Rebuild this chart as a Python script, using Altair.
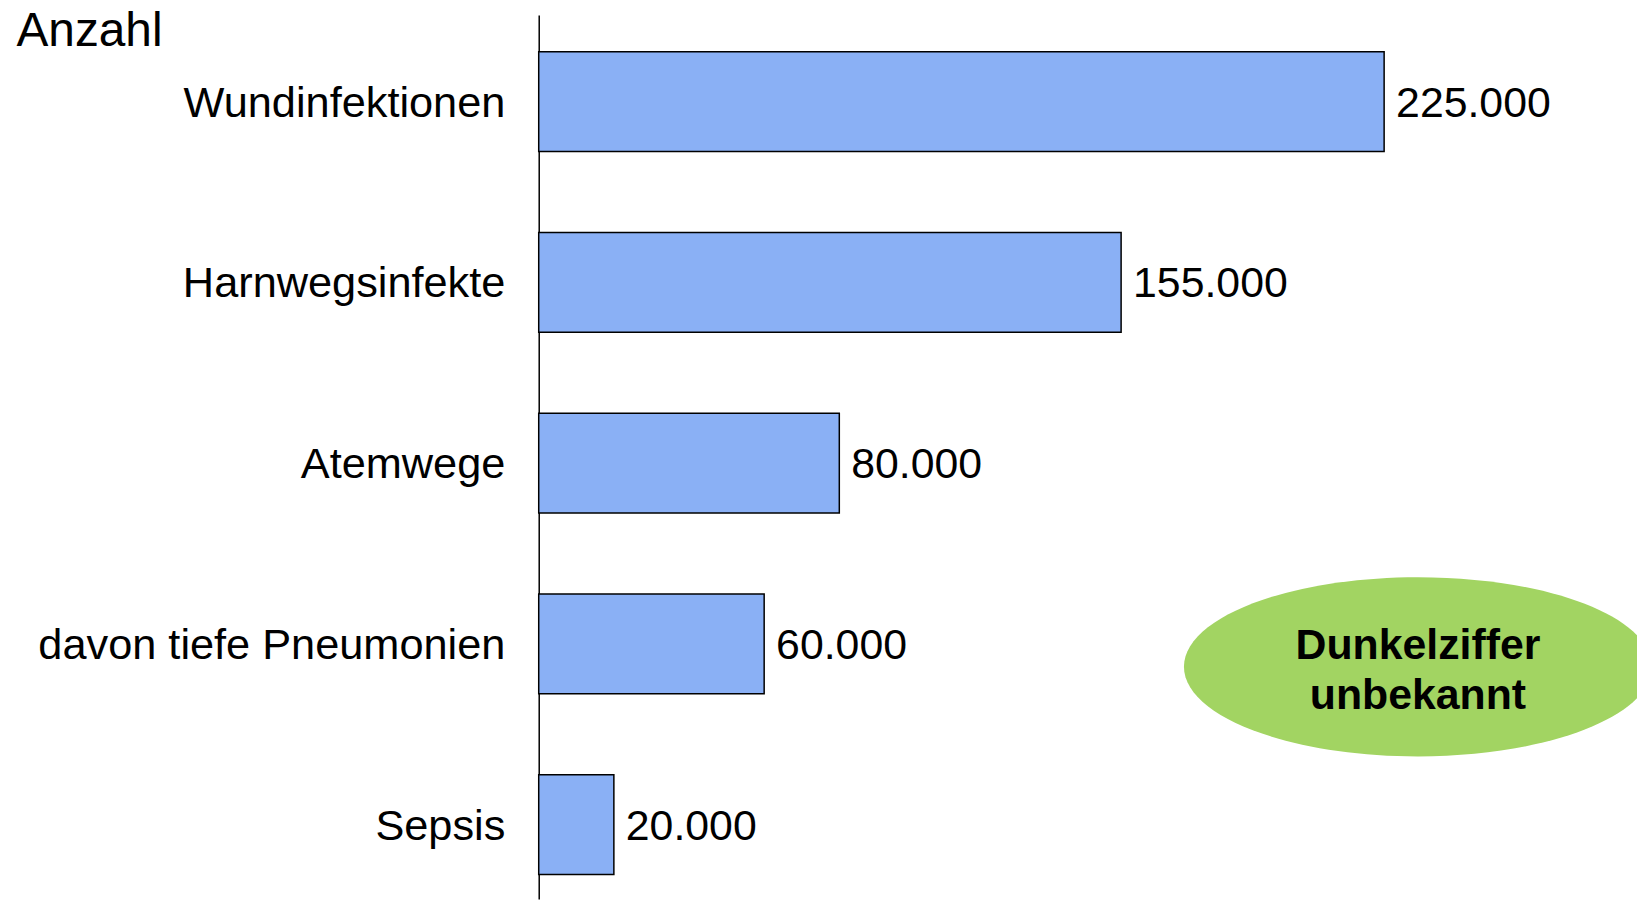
import altair as alt
import pandas as pd

categories = ["Wundinfektionen", "Harnwegsinfekte", "Atemwege", "davon tiefe Pneumonien", "Sepsis"]
values = [225000, 155000, 80000, 60000, 20000]
value_labels = [f"{v:,}".replace(",", ".") for v in values]
axis_title = "Anzahl"
note_text = "Dunkelziffer\nunbekannt"
note_x = [234000]
note_category = ["davon tiefe Pneumonien"]

df = pd.DataFrame({"cat": categories, "val": values, "lab": value_labels})
note_df = pd.DataFrame({"x": note_x, "cat": note_category, "t": [note_text]})

FONT = "Liberation Sans"
W, H = 1103, 888
x_scale = alt.Scale(domain=[0, 292300], nice=False, zero=True)
y_scale = alt.Scale(domain=categories, paddingInner=0.4475, paddingOuter=0.17, align=0.6)

ELLIPSE = ("M -1 0 C -1 -0.2115 -0.5523 -0.383 0 -0.383 "
           "C 0.5523 -0.383 1 -0.2115 1 0 "
           "C 1 0.2115 0.5523 0.383 0 0.383 "
           "C -0.5523 0.383 -1 0.2115 -1 0 Z")

y_axis = alt.Axis(
    title=axis_title, titleAngle=0, titleAlign="left", titleBaseline="alphabetic",
    titleX=-525, titleY=31, titleFont=FONT, titleFontSize=48, titleFontWeight="normal",
    titleColor="black", labelFont=FONT, labelFontSize=43.5, labelColor="black",
    labelPadding=34, labelLimit=700, ticks=False, domainColor="black", domainWidth=1.5,
    grid=False, labelBaseline="middle", labelOffset=2,
)

bars = alt.Chart(df).mark_bar(color="#8AB0F5", stroke="black", strokeWidth=1.5).encode(
    x=alt.X("val:Q", scale=x_scale, axis=None),
    y=alt.Y("cat:N", scale=y_scale, axis=y_axis, sort=categories),
)

labels = alt.Chart(df).mark_text(
    align="left", baseline="middle", dx=12, dy=2, fontSize=43, font=FONT, color="black"
).encode(
    x=alt.X("val:Q", scale=x_scale, axis=None),
    y=alt.Y("cat:N", scale=y_scale, sort=categories),
    text="lab:N",
)

ellipse = alt.Chart(note_df).mark_point(
    shape=ELLIPSE, size=220900, filled=True, color="#A2D462", opacity=1, strokeWidth=0, yOffset=23
).encode(
    x=alt.X("x:Q", scale=x_scale, axis=None),
    y=alt.Y("cat:N", scale=y_scale, sort=categories),
)

note = alt.Chart(note_df).mark_text(
    align="center", baseline="middle", lineBreak="\n", lineHeight=50,
    fontSize=43, fontWeight="bold", font=FONT, color="black", yOffset=2,
).encode(
    x=alt.X("x:Q", scale=x_scale, axis=None),
    y=alt.Y("cat:N", scale=y_scale, sort=categories),
    text="t:N",
)

chart = alt.layer(bars, labels, ellipse, note).properties(
    width=W, height=H,
    padding={"left": 533, "top": 5, "right": 0, "bottom": 0},
    autosize=alt.AutoSizeParams(type="none"),
).configure_view(stroke=None)

chart.save("out.html", embed_options={"renderer": "svg", "actions": False})
